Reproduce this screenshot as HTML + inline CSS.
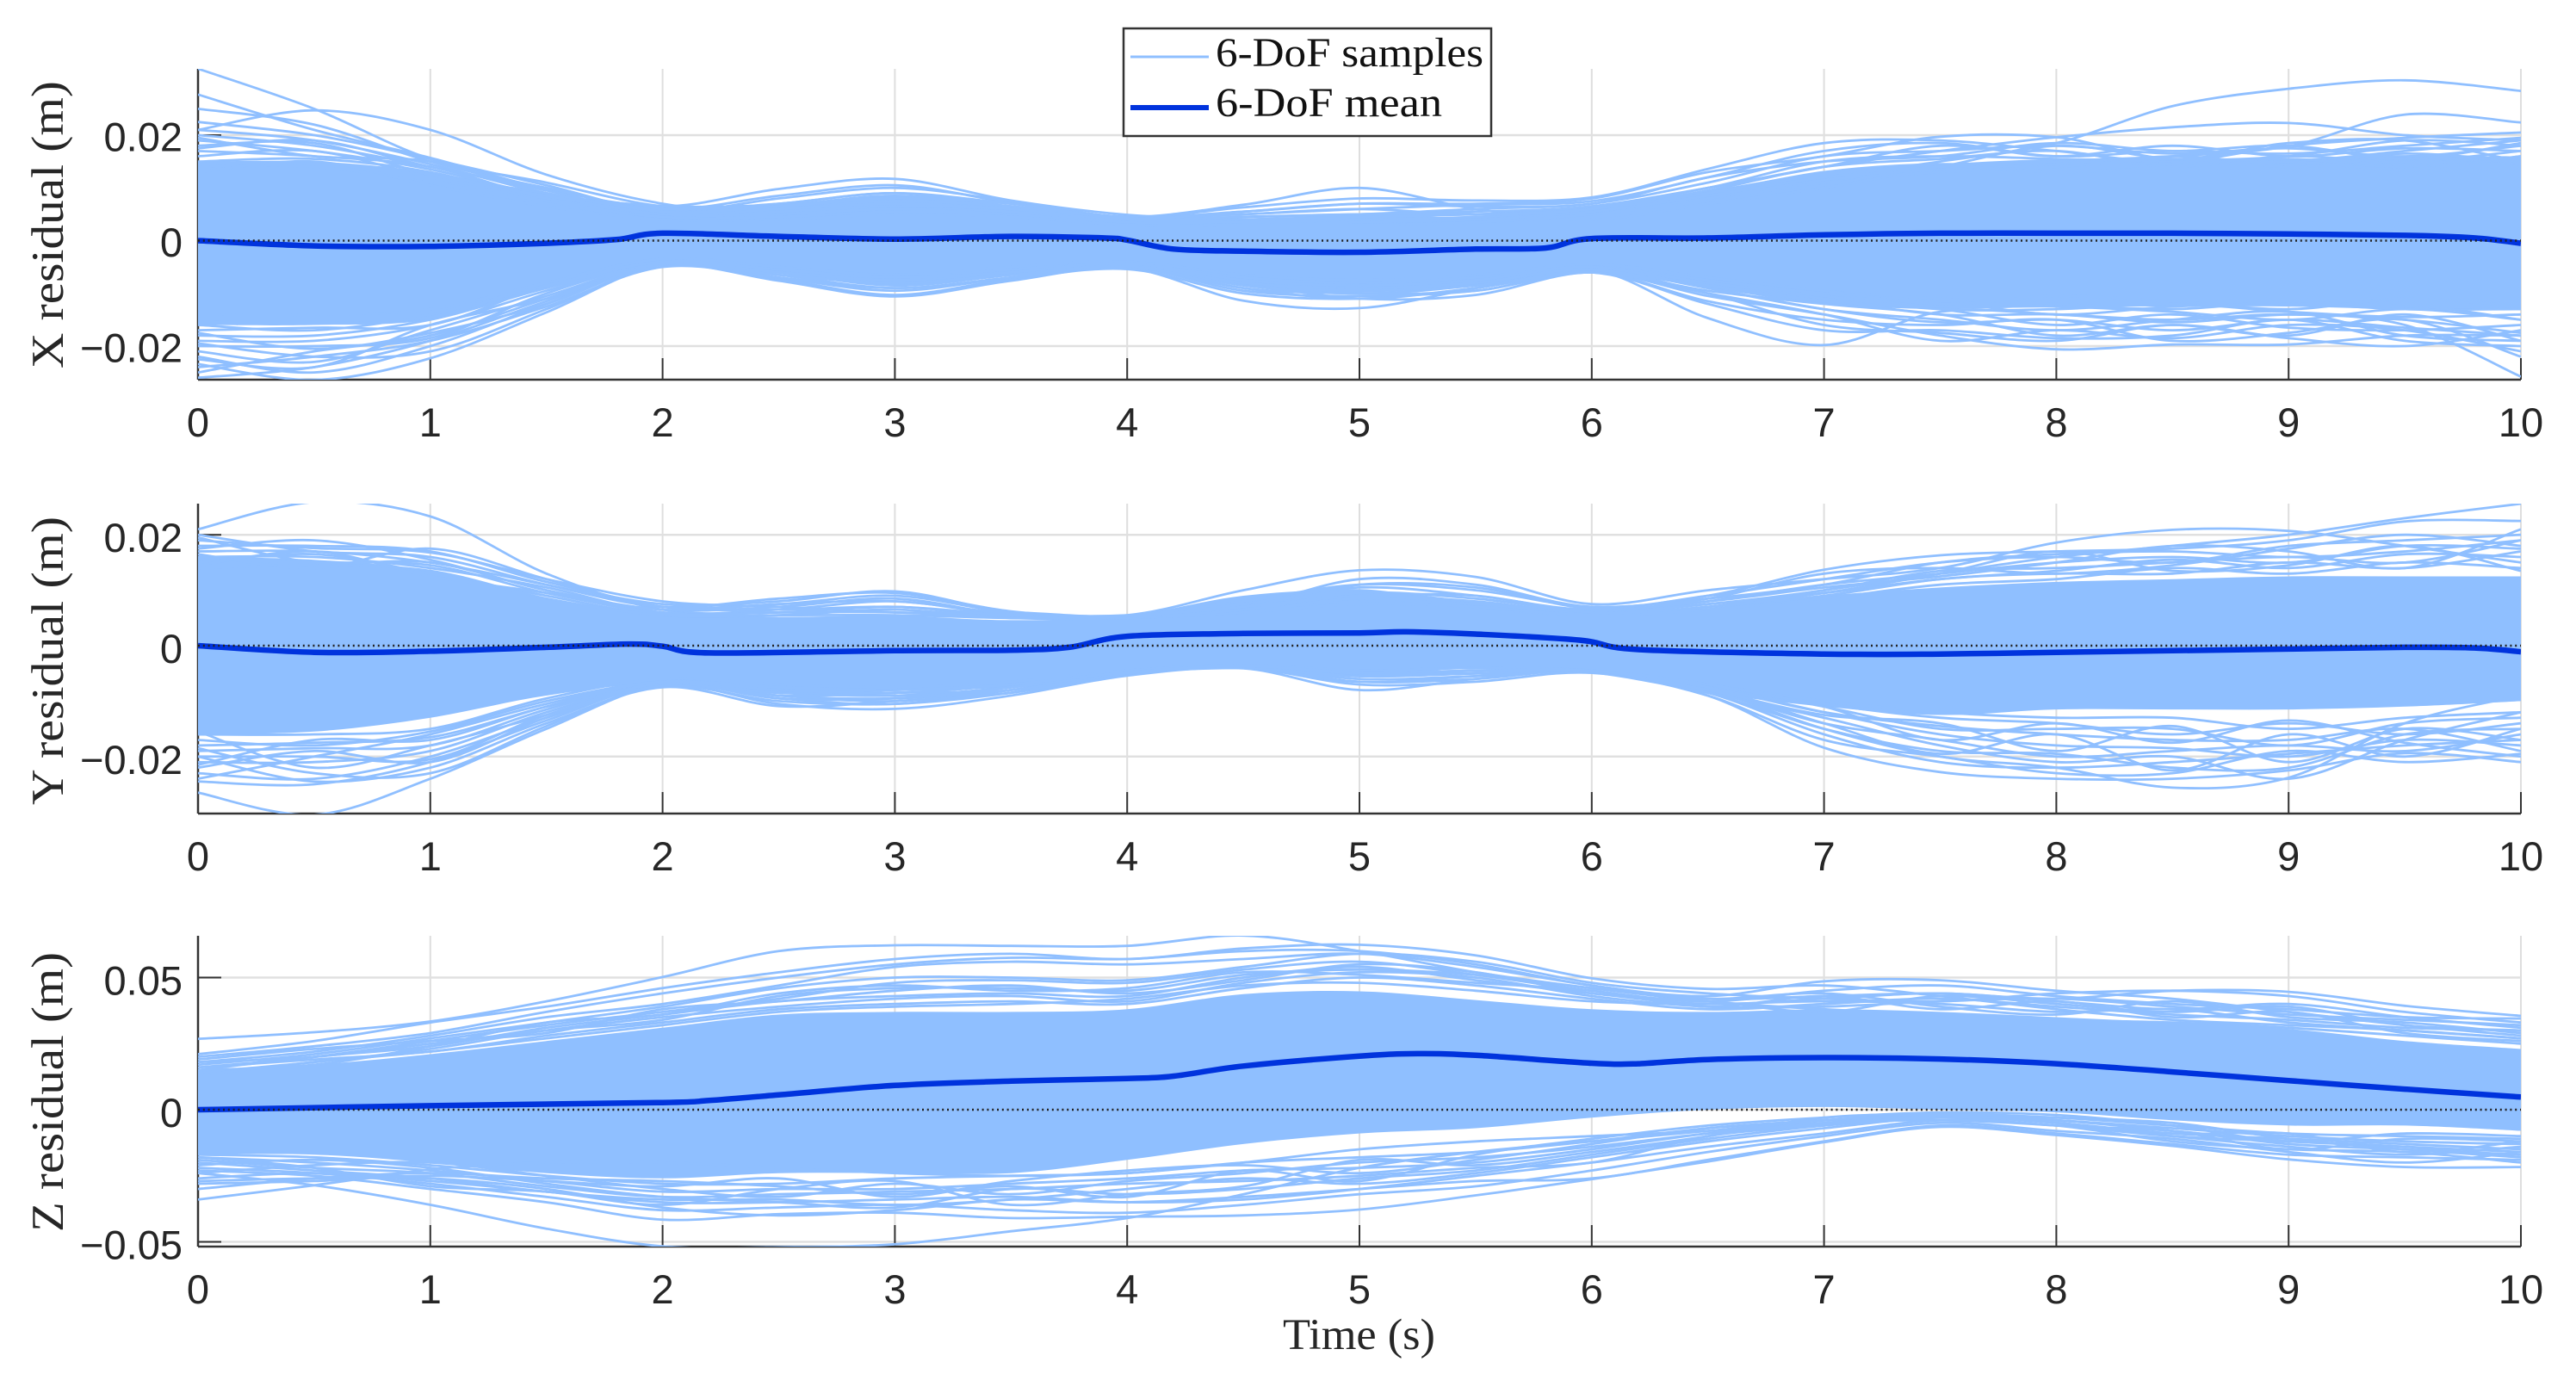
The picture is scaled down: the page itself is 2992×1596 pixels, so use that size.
<!DOCTYPE html>
<html lang="en">
<head>
<meta charset="utf-8">
<title>6-DoF residual samples and mean</title>
<style>
html,body{margin:0;padding:0;background:#fff;width:2992px;height:1596px;overflow:hidden}
svg{display:block}
.tick{font-family:"Liberation Sans",sans-serif;font-size:47px;fill:#262626}
.serif{font-family:"Liberation Serif",serif;fill:#262626}
.legend-text{font-family:"Liberation Serif",serif;font-size:48px;fill:#111}
</style>
</head>
<body>
<svg id="chart" xmlns="http://www.w3.org/2000/svg" width="2992" height="1596" viewBox="0 0 2992 1596">
  <rect width="2992" height="1596" fill="#ffffff"/>
  <g id="panels"></g>
  <text class="serif" font-size="53" transform="translate(73,428) rotate(-90)" textLength="334" lengthAdjust="spacingAndGlyphs">X residual (m)</text>
  <text class="serif" font-size="53" transform="translate(73,935) rotate(-90)" textLength="335" lengthAdjust="spacingAndGlyphs">Y residual (m)</text>
  <text class="serif" font-size="53" transform="translate(73,1431) rotate(-90)" textLength="325" lengthAdjust="spacingAndGlyphs">Z residual (m)</text>
  <text class="serif" font-size="51" x="1490" y="1567" textLength="177" lengthAdjust="spacingAndGlyphs">Time (s)</text>
  <g>
    <rect x="1305" y="33" width="427" height="125" fill="#ffffff" stroke="#333333" stroke-width="2.5"/>
    <line x1="1313" y1="66" x2="1404" y2="66" stroke="#8fbfff" stroke-width="3"/>
    <text class="legend-text" x="1412" y="77" textLength="311" lengthAdjust="spacingAndGlyphs">6-DoF samples</text>
    <line x1="1313" y1="125" x2="1404" y2="125" stroke="#0033dd" stroke-width="6"/>
    <text class="legend-text" x="1412" y="135" textLength="263" lengthAdjust="spacingAndGlyphs">6-DoF mean</text>
  </g>
</svg>
<script>
// Sample and band values are residuals in millimetres at each entry of sampleTimes.
const sampleTimes = [0,0.5,1,1.5,2,2.5,3,3.5,4,4.5,5,5.5,6,6.5,7,7.5,8,8.5,9,9.5,10];
const timeTicks = [0,1,2,3,4,5,6,7,8,9,10];

const xTickValues = [0.02,0,-0.02];
const xTickLabels = ["0.02","0","\u22120.02"];
const yTickValues = [0.02,0,-0.02];
const yTickLabels = ["0.02","0","\u22120.02"];
const zTickValues = [0.05,0,-0.05];
const zTickLabels = ["0.05","0","\u22120.05"];

const xMeanTimes = [0,0.5,1,1.5,1.8,2,2.5,3,3.5,3.9,4,4.2,4.5,5,5.5,5.8,6,6.5,7,7.5,8,8.5,9,9.5,9.8,10];
const xMean = [0,-1,-1.1,-0.5,0.2,1.4,0.8,0.3,0.8,0.5,0.1,-1.6,-2,-2.2,-1.6,-1.4,0.4,0.5,1.1,1.4,1.4,1.4,1.25,1,0.5,-0.5];
const yMeanTimes = [0,0.5,1,1.5,1.85,2,2.2,3,3.5,3.75,4,4.5,5,5.2,5.5,5.95,6.2,7,7.5,8,8.5,9,9.5,9.8,10];
const yMean = [0,-1.2,-1,-0.3,0.3,-0.1,-1.3,-0.9,-0.8,-0.3,1.7,2.2,2.3,2.5,2.1,1,-0.7,-1.5,-1.5,-1.2,-0.9,-0.6,-0.3,-0.4,-1.1];
const zMeanTimes = [0,1,2,2.2,2.5,3,3.5,4,4.2,4.5,5,5.25,5.5,6,6.2,6.5,7,7.5,8,8.5,9,9.5,10];
const zMean = [0,1.5,2.7,3.5,5.6,9.2,10.8,11.8,12.7,16.5,20.3,21.2,20.6,17.6,17.4,19,19.7,19.2,17.4,14.3,11,7.8,4.8];

const xBandUpper = [15,15,13,9,6.8,7,8.5,6.5,4.6,4,5,4.5,6.5,9.5,13,14.5,15.5,15.5,15.5,16,16];
const xBandLower = [-16,-16,-15,-9,-4.5,-6,-8.5,-6.5,-4.5,-8.5,-9.8,-8.5,-6,-9,-12,-13,-12.5,-12.5,-12.5,-13,-13];
const yBandUpper = [16,15.5,13.5,8.5,5.8,5.2,5.4,4.6,5.4,9,10,8,5.8,6.8,9,10.5,11.5,12,12.5,12.5,12.5];
const yBandLower = [-16,-15.5,-13,-9,-6.8,-8.5,-8,-7.5,-4.8,-3.6,-5.5,-4,-5,-8.5,-11,-12.5,-11.5,-11.5,-11.5,-11,-10];
const zBandUpper = [15,17,21,26,31,36,37,37,38,43.7,44.8,41.5,38,37,38,37,35,33,30.6,26,23];
const zBandLower = [-17,-17,-20,-24,-26,-24,-24,-24,-19,-13,-9,-7,-3,0,1,0,-1,-4,-6,-6,-8];

const xSamples = [
[32.6,25,15.5,11,6.5,6,6.5,5,3.5,4,4.5,4,6,9,12,15,18.5,25.5,28.8,30.4,28.4],
[21,24.7,21,12.5,7,5,6,5.5,3.8,4.5,5,5,6.5,10,14,17,19.6,21.5,22.3,20,19],
[27.7,21,15.7,9.8,6.5,9.8,11.7,7.6,4.9,4,3.5,3.5,5,8.5,11,13,15,16,17.9,23.9,22.4],
[25,22,15,10,6,8.5,10.5,7.2,4.5,6.8,10,6,4,7,10,14,18,15.5,16,19,18],
[22.5,20,15.5,10.5,5.5,8,10,7.5,4.5,6.3,8,7.6,8.2,13.6,18.5,19,17,15,18,19.5,20.5],
[21,19,14.5,9,5.5,7,9,7,4.5,5.5,7,7,8,13,16,19.7,19.6,15.5,18.5,19,15],
[20,18,14,9.5,5,6.5,8.5,6.5,4.3,5,6,6.8,7.5,12,17,18.5,16,17,16.5,18,19.5],
[19,17,13.5,8.5,5.5,6,7.5,6.5,4,4.5,5,6,7,11,16,17,18,16.5,17.5,16,18],
[18,18.5,12.5,9,5,6,7,6,4,4.5,5,5.5,6.5,10,15,16,15.5,15,15,17,19],
[17,16,14,8,4.5,5.5,6.5,6,3.8,4,4.5,5,6,9.5,14,15.5,17,14,16,15,17],
[16,17,12,8.5,5,5,6,5.5,3.5,3.5,4,4.5,6,9,13,14.5,14,16,14.5,16.5,15],
[15,15.5,13,7.5,4,5,6,5,3.5,3.5,3.5,4,5.5,8.5,12,13.5,15,14.5,15.5,14,16],
[14,14,11,7.5,4.5,4.5,5.5,5,3,3,3.5,4,5,8,11.5,13,14,15.5,14,15,14.5],
[13,15,10.5,6.5,4,4,5,4.5,3,3,3,3.5,5,7.5,10.5,14,13,14,15,13.5,16],
[19.5,16,15,9,6,7,9,6.5,4.5,5,6,5,6,10,14,18,16,18,16,17.5,17],
[17.5,19,14,10,5.5,6.5,8,7,4.2,5.5,7,6.5,7,12,15,16,18.5,17,18,15.5,18.5],
[-23.4,-26.4,-22.3,-13.6,-4.5,-6,-7,-6,-4,-8,-11,-10.3,-6,-10.5,-14,-18,-20.6,-19.7,-19.7,-18,-18],
[-26,-24,-19,-11.5,-4.6,-7.6,-10.6,-7.6,-5.2,-11.4,-12.8,-9,-5.5,-14.7,-19.8,-13.5,-14,-15,-14,-16,-25.8],
[-22,-25,-20,-12,-4.5,-7.3,-10.3,-7.3,-5.4,-10,-11,-9,-6,-10,-14,-19,-17,-18.5,-16,-17,-21],
[-25,-21,-18,-11,-4.3,-7,-9.5,-7,-5,-9.5,-10.5,-9.5,-6,-9.5,-12,-14,-18,-16,-18,-14,-19],
[-21,-23,-17,-10.5,-4.3,-6.5,-9,-7,-4.8,-8.5,-10,-8.5,-5.5,-9,-13,-15.5,-15,-17,-15,-16.5,-18],
[-20,-20,-18.5,-10,-4.2,-6,-8.5,-6.5,-4.5,-8,-9,-8.5,-5,-8.5,-11.5,-13,-16,-14,-16.5,-17,-16],
[-19,-19,-16,-9.5,-4,-6,-8,-6.5,-4.5,-7.5,-9,-8,-5.5,-8,-11,-14,-14,-15.5,-14,-15,-17.5],
[-18,-18,-15,-9,-4,-5.5,-7.5,-6,-4.3,-7.5,-8.5,-7.5,-5,-8,-10.5,-12.5,-12.5,-13.5,-15,-13,-15],
[-17,-16.5,-16,-8.5,-4,-5.5,-7.5,-6,-4.3,-7,-8,-8,-5,-7.5,-10.5,-13,-13,-12,-13.5,-14.5,-14],
[-16,-17,-14,-8.5,-4,-5,-7,-5.5,-4,-7,-8,-7,-4.5,-7.5,-10,-11.5,-14,-12.5,-12,-13,-13],
[-15,-15,-14.5,-8,-3.5,-5,-6.5,-5.5,-4,-6.5,-7.5,-7,-4.5,-7,-9.5,-11,-12,-13,-11.5,-12,-15],
[-14,-14,-13,-8,-3.5,-5,-6.5,-5,-4,-6.5,-7.5,-6.5,-4.5,-7,-9.5,-12,-10.5,-11.5,-13,-11,-12.5],
[-24,-22,-19,-12.5,-5,-7,-9,-7,-5,-9,-11,-9,-6,-12,-17,-17,-18.5,-18,-15,-19,-20],
[-22.5,-24,-16,-11,-4.5,-6.5,-8,-6.5,-4.8,-9,-10,-9.5,-6,-11.5,-15,-16,-15,-19,-17.5,-15,-22],
[-19.5,-22,-21,-13,-4.5,-6,-7.5,-6,-4.5,-8,-9,-8,-5.5,-10,-16,-17.5,-19,-16,-18.5,-20,-17],
[-17.5,-20.5,-17.5,-12,-4.2,-5.5,-7,-6,-4.3,-7.5,-8.5,-7.5,-5,-9,-13,-15,-17,-15,-13.5,-18,-19]
];

const ySamples = [
[21,25.9,23.3,13,6.5,6,7,5.5,5,8,10,7,5.5,7,10,13,16,18,20,23,25.6],
[19,17.6,16.8,12,8,7,6,6,5.5,10,13.6,12.4,7.5,10,12,14,18.6,20.9,20.7,18,15],
[20,17,16,11,7,8.5,9.5,6.2,5,7,12,11,7,9,13.7,16.3,17,17.5,19,22.4,22.5],
[18,18,17,11.5,7.5,8,9.8,6,5.5,8,11,10,7,8.5,11,15,16.5,17,16,17,19],
[17,17,15,11,7,7.5,9,6,5.3,7.5,10.5,9,6.5,9,12,15,16,15,18,19,20],
[19.5,15,15,10,6.5,7,8.5,5.5,5,7,9,8,6,8,11,13,15,16,15,18,17.5],
[16,16,14,10.5,6,6.5,8,5.5,5,6.5,9,7.5,6,7.5,10,13.5,14,15,16,15,19],
[15.5,15,14.5,9.5,6,6,7,5.2,5.2,6.5,8,7.5,6,7.5,9.5,12,13.5,15.5,14,16.5,16],
[15,16.5,13,9,5.5,5.5,6.5,5,5,6,8.5,7,5.7,7,9,12,13,13,15,14,17],
[14,14.5,13.5,8.5,5.5,5.5,5.5,5,5,6,7.5,7,5.5,6.5,8.5,11,12,14,13,15,14],
[17.5,19,15.5,10,6.5,7.5,8,5.8,5.3,7,11,10.5,6.7,8,10.5,12.5,15,18,17,14,21],
[16.5,14,17.5,12,7,6.5,7,5.5,5.2,6.5,9.5,8.5,6.3,8.5,13,14,13,14.5,17.5,20,18],
[14.5,17,12.5,9.5,5.8,6,6,5,5.4,7,9,9,6,7,9.5,13,17,13.5,14.5,18,13.5],
[-26.5,-30.5,-24,-15,-7,-9,-10,-8,-5,-4,-5,-4.5,-4.5,-8,-15,-20,-22,-25.6,-23.8,-14,-9],
[-20,-24.5,-22,-14,-7.5,-10.9,-10,-8.5,-5.2,-4,-7,-6.5,-4.9,-9,-18.4,-22.8,-24,-24,-22.5,-19.4,-21],
[-24.5,-25,-21,-13.5,-7,-10.5,-11.4,-9,-5.4,-4.1,-8,-6,-4.5,-8.5,-16,-21,-22,-21,-19.5,-18,-17],
[-23,-24,-20,-13,-7,-9.5,-10.5,-8,-5,-4,-6.5,-6,-4.5,-8.5,-15,-19,-19.5,-22,-22,-16,-15],
[-21,-21,-19,-12,-6.8,-9,-9.5,-8,-5,-4,-6,-5.5,-4.7,-8,-14,-17,-20,-19,-18,-19,-16],
[-20,-20,-20.5,-12.5,-7,-8.5,-9,-7.5,-4.8,-3.8,-5.5,-5,-4.5,-7.5,-12,-16,-18,-18.5,-20,-17,-18],
[-19,-18.5,-18,-11.5,-6.5,-8,-9,-7.5,-4.8,-3.7,-5,-5,-4.5,-7.5,-12,-14.5,-16,-17,-17,-15,-19],
[-18,-17.5,-16.5,-11,-6.5,-8,-8.5,-7,-4.5,-3.6,-5,-4.5,-4.5,-7,-11,-15,-15,-15,-18,-14,-13],
[-17,-18,-15.5,-10,-6.5,-7.5,-8,-7,-4.5,-3.5,-4.5,-4,-4.5,-7,-10.5,-13,-14,-16,-14,-16,-14],
[-16,-16,-15,-9.5,-6,-7,-7.5,-6.5,-4.5,-3.5,-4.5,-4,-4.5,-7,-10,-12,-13,-13,-15,-13,-12],
[-18.5,-23,-23,-14.5,-7,-9,-8.5,-8,-5,-3.8,-5.5,-5,-4.7,-9,-17,-20,-23,-23,-19,-21,-19.5],
[-22,-19,-21,-13,-7.3,-10,-10.5,-8.5,-5,-4,-6.5,-5.5,-4.5,-8.5,-13,-18,-21,-20,-24,-17,-12],
[-15.5,-22,-18,-12.5,-6.8,-9.5,-9.5,-7.5,-5,-4,-5.5,-4.5,-4.7,-7.5,-14,-19.5,-16,-22.5,-16,-20,-15],
[-21.5,-17,-17,-11,-6.5,-8.5,-8,-7,-4.8,-3.7,-5,-5,-4.5,-8,-12.5,-14,-19,-14.5,-21,-15,-17],
[-24,-20,-16,-10.5,-6.5,-8,-8.5,-7,-4.8,-3.7,-4.8,-4.5,-4.5,-7,-11,-17,-14,-17.5,-13.5,-17.5,-20]
];

const zSamples = [
[26.8,29.3,33.4,41,50.2,60,62.2,62,62,65.9,60,52,46,41,38,36,34,33,31,28,25],
[21,26,33,39,46,52,57,59,57,61,62.4,58.4,49.7,45.7,47,43,38,34,32,30,27],
[20,24,29,37,44,50,55,57.5,57,60,60,55,47,43,48.6,49,45,42,37,32,28],
[18,22,28,35,40,47,54,56,55,57,59,54,47,42,43,44,42,45,44.6,39.3,35.5],
[17,21,27,33,39,46,50,50,49,54,59,56,48,44,42,41,44,45,43,37,33],
[16,20,26,32,37,42,48,49,48,53,56,51,45,41,45,47,43,40,38,35,34.5],
[15,20,24,31,36,41,43,44,43,50,54,49,44,40,42,44,41,38,40,35,31],
[14,18,23,30,35,39,42,43,41,48,52,50,43,39,39,41,42,39,36,34,32],
[16,19,22,28,33,38,40,41,40,46,50,47,42,38,40,42,39,36,34,31,30],
[13,18,22,27,32,37,39,40,42,47,48,45,41,40,41,40,37,38,33,30,27],
[18,20,25,30,34,43,46,46,45,51,53,51,46,42,44,39,36,41,35,33,29],
[19,23,26,29,38,41,45,47,44,49,55,52,44,41,37,43,40,37,39,32,30],
[15,17,24,33,36,44,47,45,46,52,51,48,45,39,43,38,41,35,37,29,26],
[-34,-28.6,-22.6,-20,-20,-22,-24,-25,-24,-20,-15,-12,-10,-8,-5,-4,-6,-10,-12,-14,-16],
[-24,-28.6,-36,-45,-51.7,-52,-50.9,-46,-41,-32,-22,-16,-12,-8,-4,-2,-4,-8,-12,-14,-18],
[-23,-25,-30,-35,-41.6,-39.5,-39,-41,-40.5,-40,-37.8,-32.4,-26.3,-19.6,-12.3,-6.5,-9.6,-13.7,-18.8,-21.7,-21.7],
[-27,-26,-26,-30,-37,-40,-38,-34,-35,-33,-30,-27,-26,-19,-12,-6,-9,-13,-17,-18,-19],
[-22,-24,-28,-33,-38,-37,-36,-38,-39,-36,-32,-29,-23,-16,-10,-5,-8,-11,-16,-20,-16],
[-26,-24,-27,-31,-35,-35,-34,-33,-35,-34,-30,-25,-20,-14,-9,-4,-6,-12,-15,-16,-20],
[-20,-23,-26,-31,-34,-34,-36,-34,-30,-26,-28,-24,-18,-12,-7,-3,-5,-10,-14,-17,-14],
[-19,-22,-24,-29,-33,-32,-31,-30,-28,-27,-25,-22,-20,-10,-6,-3,-6,-8,-13,-15,-17],
[-18,-20,-23,-27,-31,-30,-30,-28,-26,-23,-22,-20,-15,-9,-5,-2,-4,-7,-10,-12,-13],
[-17,-18,-21,-25,-28,-28,-26,-25,-24,-20,-18,-16,-12,-7,-4,-2,-3,-6,-9,-10,-11],
[-21,-19,-22,-28,-33,-35,-37,-30,-32,-30,-26,-23,-17,-11,-6,-2.5,-5,-9,-11,-13,-15],
[-24,-21,-20,-25,-30,-33,-28,-32,-27,-24,-20,-18,-14,-9,-5.5,-3,-4,-8,-15,-11,-12],
[-28,-27,-25,-27,-29,-26,-33,-27,-23,-21,-24,-19,-13,-7,-4,-1.5,-3,-5,-11,-15,-18],
[-18,-22,-29,-31,-36,-30,-27,-36,-32,-29,-19,-21,-16,-10,-3,-2,-5,-9,-9,-16,-12],
[-30,-26,-24,-26,-27,-29,-32,-29,-33,-23,-27,-17,-11,-6,-3,-1,-2,-6,-12,-9,-10]
];

const SVG_NS = 'http://www.w3.org/2000/svg';
const panelsRoot = document.getElementById('panels');
const plotLeft = 230;
const plotRight = 2928;
const timeScale = t => plotLeft + (plotRight - plotLeft) * t / 10;

function node(tag, parent) {
  const el = document.createElementNS(SVG_NS, tag);
  parent.appendChild(el);
  return el;
}

function smoothSegments(pts) {
  let d = '';
  for (let i = 0; i < pts.length - 1; i++) {
    const p0 = pts[Math.max(i - 1, 0)];
    const p1 = pts[i];
    const p2 = pts[i + 1];
    const p3 = pts[Math.min(i + 2, pts.length - 1)];
    const c1x = p1[0] + (p2[0] - p0[0]) / 6;
    const c1y = p1[1] + (p2[1] - p0[1]) / 6;
    const c2x = p2[0] - (p3[0] - p1[0]) / 6;
    const c2y = p2[1] - (p3[1] - p1[1]) / 6;
    d += 'C' + c1x.toFixed(1) + ' ' + c1y.toFixed(1) + ' ' + c2x.toFixed(1) + ' ' + c2y.toFixed(1) + ' ' + p2[0].toFixed(1) + ' ' + p2[1].toFixed(1);
  }
  return d;
}

function seriesPoints(times, values, yScale) {
  return values.map((v, i) => [timeScale(times[i]), yScale(v / 1000)]);
}

function drawPanel(cfg) {
  const yScale = v => cfg.zeroY - v * cfg.pxPerMetre;
  const g = node('g', panelsRoot);
  
  

  const clip = node('clipPath', g);
  clip.setAttribute('id', 'clip-' + cfg.key);
  const clipRect = node('rect', clip);
  clipRect.setAttribute('x', plotLeft);
  clipRect.setAttribute('y', cfg.top);
  clipRect.setAttribute('width', plotRight - plotLeft);
  clipRect.setAttribute('height', cfg.bottom - cfg.top);

  timeTicks.forEach(t => {
    const grid = node('line', g);
    
    
    grid.setAttribute('x1', timeScale(t));
    grid.setAttribute('x2', timeScale(t));
    grid.setAttribute('y1', cfg.top);
    grid.setAttribute('y2', cfg.bottom);
    grid.setAttribute('stroke', '#dedede');
    grid.setAttribute('stroke-width', '2');
  });
  cfg.tickValues.forEach(v => {
    const grid = node('line', g);
    
    
    grid.setAttribute('x1', plotLeft);
    grid.setAttribute('x2', plotRight);
    grid.setAttribute('y1', yScale(v));
    grid.setAttribute('y2', yScale(v));
    grid.setAttribute('stroke', '#e0e0e0');
    grid.setAttribute('stroke-width', '2.5');
  });

  const leftAxis = node('line', g);
  
  
  leftAxis.setAttribute('x1', plotLeft);
  leftAxis.setAttribute('x2', plotLeft);
  leftAxis.setAttribute('y1', cfg.top);
  leftAxis.setAttribute('y2', cfg.bottom);
  leftAxis.setAttribute('stroke', '#333333');
  leftAxis.setAttribute('stroke-width', '2.5');

  const bottomAxis = node('line', g);
  
  
  bottomAxis.setAttribute('x1', plotLeft);
  bottomAxis.setAttribute('x2', plotRight);
  bottomAxis.setAttribute('y1', cfg.bottom);
  bottomAxis.setAttribute('y2', cfg.bottom);
  bottomAxis.setAttribute('stroke', '#333333');
  bottomAxis.setAttribute('stroke-width', '2.5');

  timeTicks.forEach(t => {
    const tick = node('line', g);
    
    
    tick.setAttribute('x1', timeScale(t));
    tick.setAttribute('x2', timeScale(t));
    tick.setAttribute('y1', cfg.bottom);
    tick.setAttribute('y2', cfg.bottom - 25);
    tick.setAttribute('stroke', '#333333');
    tick.setAttribute('stroke-width', '2');
    const label = node('text', g);
    
    
    label.setAttribute('class', 'tick');
    label.setAttribute('x', timeScale(t));
    label.setAttribute('y', cfg.bottom + 66);
    label.setAttribute('text-anchor', 'middle');
    label.textContent = String(t);
  });
  cfg.tickValues.forEach((v, i) => {
    const tick = node('line', g);
    
    
    tick.setAttribute('x1', plotLeft);
    tick.setAttribute('x2', plotLeft + 27);
    tick.setAttribute('y1', yScale(v));
    tick.setAttribute('y2', yScale(v));
    tick.setAttribute('stroke', '#333333');
    tick.setAttribute('stroke-width', '2');
    const label = node('text', g);
    
    
    label.setAttribute('class', 'tick');
    label.setAttribute('x', 212);
    label.setAttribute('y', yScale(v) + cfg.labelShift);
    label.setAttribute('text-anchor', 'end');
    label.textContent = cfg.tickLabels[i];
  });

  const marks = node('g', g);
  
  
  marks.setAttribute('clip-path', 'url(#clip-' + cfg.key + ')');

  const upperPts = seriesPoints(sampleTimes, cfg.bandUpper, yScale);
  const lowerPts = seriesPoints(sampleTimes, cfg.bandLower, yScale).reverse();
  const band = node('path', marks);
  
  
  band.setAttribute('d', 'M' + upperPts[0][0] + ' ' + upperPts[0][1] + smoothSegments(upperPts) + 'L' + lowerPts[0][0] + ' ' + lowerPts[0][1] + smoothSegments(lowerPts) + 'Z');
  band.setAttribute('fill', '#8fbfff');

  cfg.samples.forEach(series => {
    const pts = seriesPoints(sampleTimes, series, yScale);
    const path = node('path', marks);
    
    
    path.setAttribute('d', 'M' + pts[0][0] + ' ' + pts[0][1] + smoothSegments(pts));
    path.setAttribute('fill', 'none');
    path.setAttribute('stroke', '#8fbfff');
    path.setAttribute('stroke-width', '2.8');
  });

  const meanPts = seriesPoints(cfg.meanTimes, cfg.mean, yScale);
  const meanPath = node('path', marks);
  
  
  meanPath.setAttribute('d', 'M' + meanPts[0][0] + ' ' + meanPts[0][1] + smoothSegments(meanPts));
  meanPath.setAttribute('fill', 'none');
  meanPath.setAttribute('stroke', '#0033dd');
  meanPath.setAttribute('stroke-width', '6.5');

  const zero = node('line', marks);
  
  
  zero.setAttribute('x1', plotLeft);
  zero.setAttribute('x2', plotRight);
  zero.setAttribute('y1', yScale(0));
  zero.setAttribute('y2', yScale(0));
  zero.setAttribute('stroke', '#222222');
  zero.setAttribute('stroke-width', '2.5');
  zero.setAttribute('stroke-dasharray', '2 3.8');
}

drawPanel({key:'x', top:80, bottom:441, zeroY:279.5, pxPerMetre:6125, labelShift:18.5,
  tickValues:xTickValues, tickLabels:xTickLabels, samples:xSamples, bandUpper:xBandUpper, bandLower:xBandLower, meanTimes:xMeanTimes, mean:xMean});
drawPanel({key:'y', top:585, bottom:945, zeroY:750, pxPerMetre:6440, labelShift:20,
  tickValues:yTickValues, tickLabels:yTickLabels, samples:ySamples, bandUpper:yBandUpper, bandLower:yBandLower, meanTimes:yMeanTimes, mean:yMean});
drawPanel({key:'z', top:1087, bottom:1448, zeroY:1289, pxPerMetre:3070, labelShift:20,
  tickValues:zTickValues, tickLabels:zTickLabels, samples:zSamples, bandUpper:zBandUpper, bandLower:zBandLower, meanTimes:zMeanTimes, mean:zMean});
</script>
</body>
</html>
